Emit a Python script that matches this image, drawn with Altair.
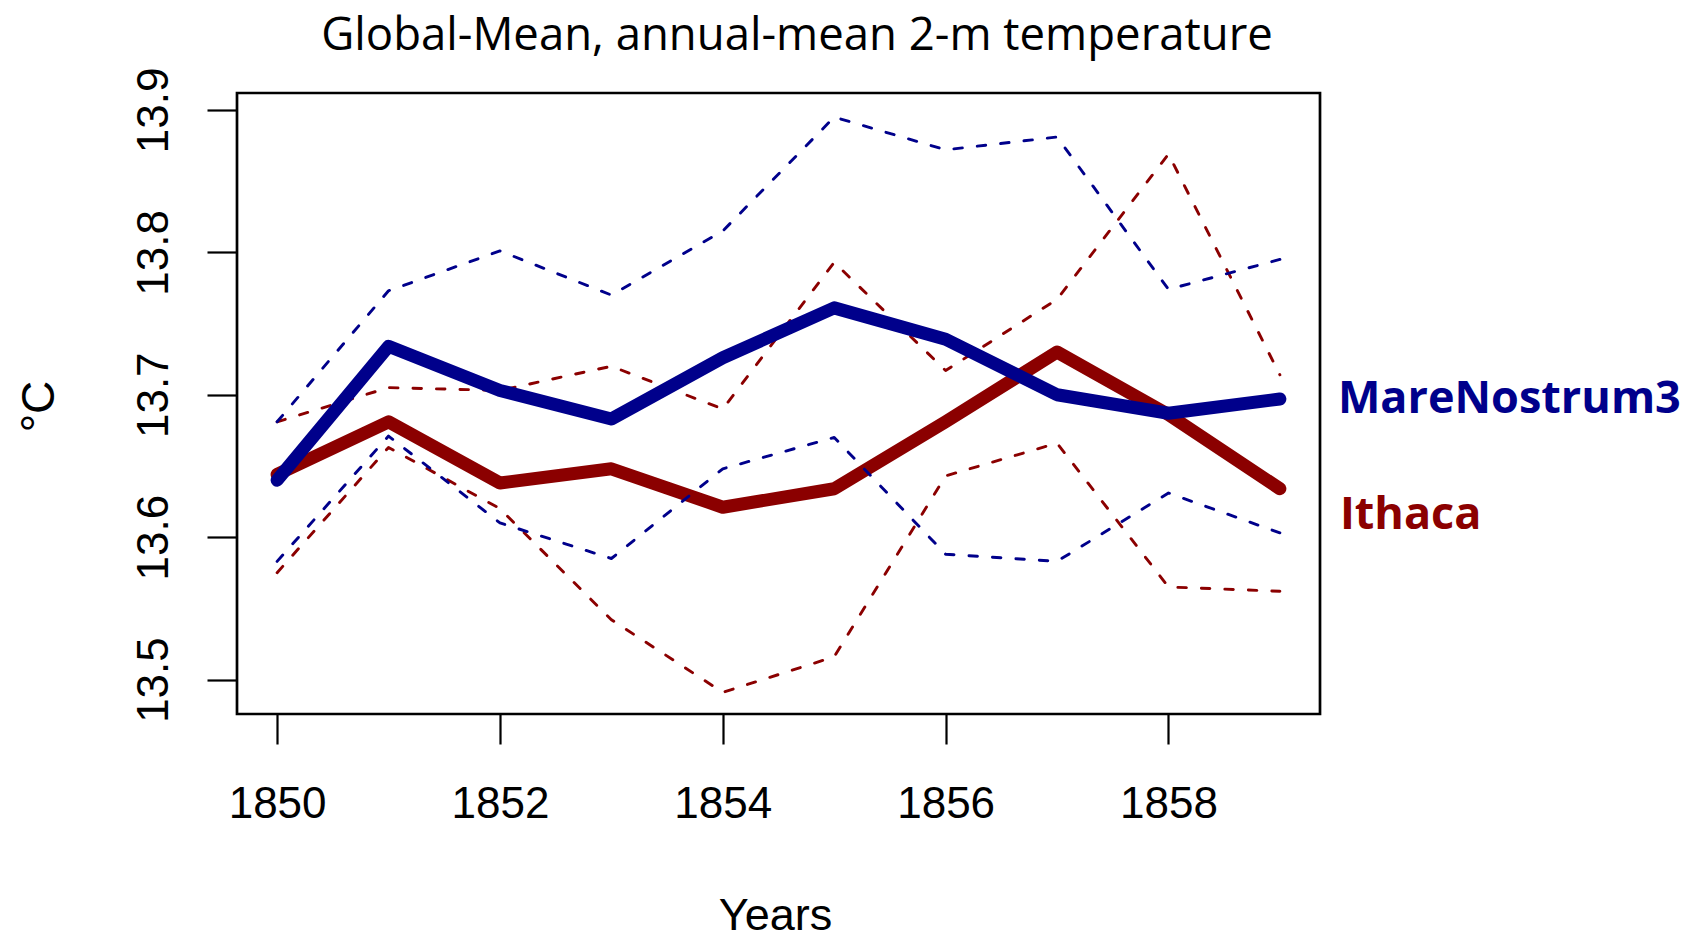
import altair as alt
import pandas as pd

years = [1850, 1851, 1852, 1853, 1854, 1855, 1856, 1857, 1858, 1859]

mn3_mean = [13.640, 13.734, 13.703, 13.683, 13.726, 13.761, 13.739, 13.700, 13.687, 13.697]
mn3_upper = [13.681, 13.773, 13.801, 13.770, 13.815, 13.895, 13.872, 13.881, 13.774, 13.795]
mn3_lower = [13.583, 13.671, 13.610, 13.585, 13.648, 13.670, 13.588, 13.583, 13.631, 13.603]

ith_mean = [13.644, 13.681, 13.638, 13.648, 13.621, 13.634, 13.681, 13.730, 13.686, 13.634]
ith_upper = [13.681, 13.705, 13.703, 13.720, 13.690, 13.793, 13.717, 13.767, 13.869, 13.714]
ith_lower = [13.575, 13.663, 13.620, 13.542, 13.491, 13.516, 13.643, 13.666, 13.565, 13.562]

x_ticks = [1850, 1852, 1854, 1856, 1858]
y_ticks = [13.5, 13.6, 13.7, 13.8, 13.9]

title_text = ["Global-Mean, annual-mean 2-m temperature"]
series_labels = ["MareNostrum3", "Ithaca"]

BLUE = "#00008B"
RED = "#8B0000"

series_list = [
    ("ith_mean", ith_mean),
    ("ith_upper", ith_upper),
    ("ith_lower", ith_lower),
    ("mn3_mean", mn3_mean),
    ("mn3_upper", mn3_upper),
    ("mn3_lower", mn3_lower),
]
rows = []
for name, vals in series_list:
    for yr, v in zip(years, vals):
        rows.append({"year": yr, "value": v, "series": name})
df = pd.DataFrame(rows)

label_df = pd.DataFrame({
    "year": [years[-1], years[-1]],
    "value": [mn3_mean[-1], ith_mean[-1]],
    "label": series_labels,
})
title_df = pd.DataFrame({"t": title_text})

W, H = 1083, 621

x_axis = alt.Axis(
    values=x_ticks, format="d", domain=False, grid=False,
    tickSize=30, tickWidth=2.2, tickColor="black",
    labelFont="Liberation Sans", labelFontSize=44, labelColor="black",
    labelPadding=73, labelBaseline="alphabetic", labelFlush=False, labelOverlap=False,
    title="Years", titleFont="Liberation Sans", titleFontSize=45,
    titleFontWeight="normal", titleColor="black",
    titleX=538, titleY=215, titleAlign="center", titleBaseline="alphabetic",
)
y_axis = alt.Axis(
    values=y_ticks, format=".1f", domain=False, grid=False,
    tickSize=30, tickWidth=2.2, tickColor="black",
    labelFont="Liberation Sans", labelFontSize=44, labelColor="black",
    labelAngle=270, labelAlign="center", labelBaseline="alphabetic",
    labelPadding=40, labelFlush=False, labelOverlap=False,
    title="°C", titleFont="Liberation Sans", titleFontSize=46,
    titleFontWeight="normal", titleColor="black", titleAngle=270,
    titleX=-184, titleY=313, titleAlign="center", titleBaseline="alphabetic",
)

x_enc = alt.X("year:Q", scale=alt.Scale(domain=[1849.64, 1859.36], nice=False, zero=False), axis=x_axis)
y_enc = alt.Y("value:Q", scale=alt.Scale(domain=[13.4758, 13.9119], nice=False, zero=False), axis=y_axis)

base = alt.Chart(df)


def line(name, color, width, dash=None):
    kw = dict(color=color, strokeWidth=width, strokeCap="round", strokeJoin="round")
    if dash is not None:
        kw["strokeDash"] = dash
    return base.transform_filter(alt.datum.series == name).mark_line(**kw).encode(
        x=x_enc, y=y_enc, order="year:Q"
    )


DASH = [8.5, 15]
layers = [
    line("ith_mean", RED, 13),
    line("ith_upper", RED, 2.9, DASH),
    line("ith_lower", RED, 2.9, DASH),
    line("mn3_mean", BLUE, 13),
    line("mn3_upper", BLUE, 2.9, DASH),
    line("mn3_lower", BLUE, 2.9, DASH),
]

lbl = alt.Chart(label_df)
mn3_text = lbl.transform_filter(alt.datum.label == "MareNostrum3").mark_text(
    align="left", baseline="middle", dx=58, dy=0, font="Open Sans",
    fontWeight="bold", fontSize=45, color=BLUE,
).encode(x=x_enc, y=y_enc, text="label:N")
ith_text = lbl.transform_filter(alt.datum.label == "Ithaca").mark_text(
    align="left", baseline="middle", dx=60, dy=26, font="Open Sans",
    fontWeight="bold", fontSize=45, color=RED,
).encode(x=x_enc, y=y_enc, text="label:N")

title_mark = alt.Chart(title_df).mark_text(
    align="center", baseline="alphabetic", font="Open Sans", fontSize=45.5,
    color="black",
).encode(x=alt.value(560), y=alt.value(-43), text="t:N")

chart = alt.layer(*layers, mn3_text, ith_text, title_mark).properties(
    width=W,
    height=H,
    padding={"left": 229, "top": 85, "right": 368, "bottom": 221},
    autosize=alt.AutoSizeParams(type="none"),
).configure_view(
    stroke="black", strokeWidth=2.7
)

chart.save("out.html", embed_options={"renderer": "svg", "actions": False})
